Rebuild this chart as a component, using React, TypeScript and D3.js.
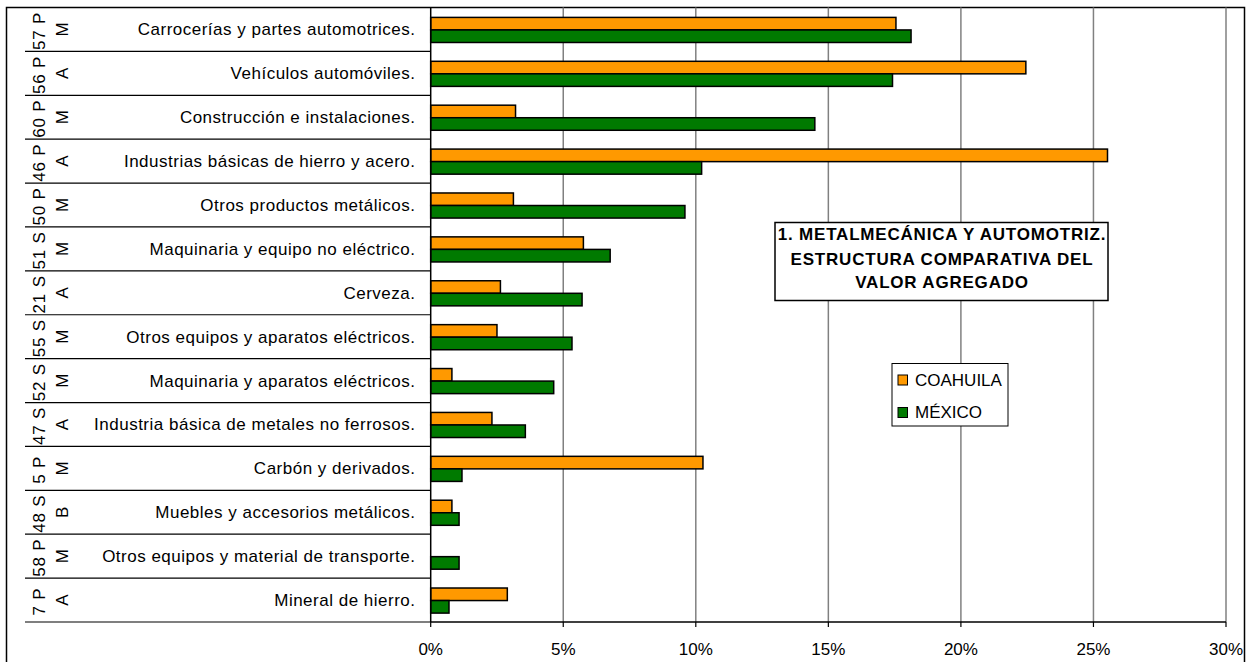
import React from "react";
import * as d3 from "d3";

const categories = [
  "Carrocerías y partes automotrices.",
  "Vehículos automóviles.",
  "Construcción e instalaciones.",
  "Industrias básicas de hierro y acero.",
  "Otros productos metálicos.",
  "Maquinaria y equipo no eléctrico.",
  "Cerveza.",
  "Otros equipos y aparatos eléctricos.",
  "Maquinaria y aparatos eléctricos.",
  "Industria básica de metales no ferrosos.",
  "Carbón y derivados.",
  "Muebles y accesorios metálicos.",
  "Otros equipos y material de transporte.",
  "Mineral de hierro.",
];
const codes = ["57 P", "56 P", "60 P", "46 P", "50 P", "51 S", "21 S", "55 S", "52 S", "47 S", "5 P", "48 S", "58 P", "7 P"];
const levels = ["M", "A", "M", "A", "M", "M", "A", "M", "M", "A", "M", "B", "M", "A"];
const coahuila = [17.55, 22.45, 3.2, 25.53, 3.12, 5.76, 2.63, 2.5, 0.8, 2.31, 10.27, 0.8, 0, 2.89];
const mexico = [18.12, 17.42, 14.49, 10.22, 9.59, 6.77, 5.71, 5.33, 4.64, 3.57, 1.18, 1.07, 1.07, 0.69];
const tickValues = [0, 5, 10, 15, 20, 25, 30];
const seriesNames = ["COAHUILA", "MÉXICO"];
const titleLines = ["1. METALMECÁNICA Y AUTOMOTRIZ.", "ESTRUCTURA COMPARATIVA DEL", "VALOR AGREGADO"];

const ORANGE = "#FF9900";
const GREEN = "#007A00";
const FONT = "'Liberation Sans', Arial, sans-serif";

export default function App() {
  const left = 430.7, right = 1226, top = 7.5, bottom = 622;
  const x = d3.scaleLinear().domain([0, 30]).range([left, right]);
  const y = d3.scaleBand<string>().domain(categories).range([top, bottom]).padding(0);
  const bw = y.bandwidth();
  const barH = bw / 3.5;
  const series = [coahuila, mexico];
  const colors = [ORANGE, GREEN];

  return (
    <svg
      width={1250}
      height={662}
      style={{ position: "absolute", left: 0, top: 0, background: "#fff" }}
      fontFamily={FONT}
    >
      <rect x={6.5} y={7.5} width={1238} height={700} fill="#fff" stroke="#000" strokeWidth={1.5} />
      {/* gridlines */}
      {tickValues.filter((t) => t > 0).map((t) => (
        <line key={"g" + t} x1={x(t)} x2={x(t)} y1={top} y2={bottom} stroke="#808080" strokeWidth={1.5} />
      ))}
      {/* category separators */}
      {categories.map((c, i) => (
        <line key={"s" + i} x1={25} x2={left} y1={(y(c) as number) + bw} y2={(y(c) as number) + bw} stroke="#000" strokeWidth={1.2} />
      ))}
      {/* bars */}
      {categories.map((c, i) =>
        series.map((s, k) =>
          s[i] > 0 ? (
            <rect
              key={c + k}
              x={x(0)}
              y={(y(c) as number) + (bw - 2 * barH) / 2 + k * barH + 0.5}
              width={x(s[i]) - x(0)}
              height={barH}
              fill={colors[k]}
              stroke="#000"
              strokeWidth={1.5}
            />
          ) : null
        )
      )}
      {/* axes */}
      <line x1={left} x2={left} y1={top} y2={bottom} stroke="#000" strokeWidth={1.5} />
      <line x1={left} x2={right} y1={bottom} y2={bottom} stroke="#000" strokeWidth={1.5} />
      {tickValues.map((t) => (
        <g key={"t" + t}>
          <line x1={x(t)} x2={x(t)} y1={bottom} y2={bottom + 5} stroke="#000" strokeWidth={1.2} />
          <text x={x(t)} y={655} textAnchor="middle" fontSize={17}>{t + "%"}</text>
        </g>
      ))}
      {/* category labels */}
      {categories.map((c, i) => {
        const cy = (y(c) as number) + bw / 2;
        return (
          <g key={"l" + i}>
            <text x={415.5} y={cy} dy="0.35em" textAnchor="end" fontSize={17} letterSpacing={0.5}>{c}</text>
            <text transform={`translate(68,${cy}) rotate(-90)`} textAnchor="middle" fontSize={17}>{levels[i]}</text>
            <text transform={`translate(45,${cy + 1.5}) rotate(-90)`} textAnchor="middle" fontSize={17} letterSpacing={0.8}>{codes[i]}</text>
          </g>
        );
      })}
      {/* title box */}
      <rect x={775} y={222.5} width={333} height={78} fill="#fff" stroke="#000" strokeWidth={1.5} />
      {titleLines.map((t, i) => (
        <text key={"tl" + i} x={942} y={[239.5, 264.5, 287.5][i]} textAnchor="middle" fontSize={17} fontWeight="bold" letterSpacing={0.8}>{t}</text>
      ))}
      {/* legend */}
      <rect x={892} y={363.5} width={116} height={62.5} fill="#fff" stroke="#000" strokeWidth={1} />
      {seriesNames.map((n, k) => (
        <g key={"lg" + k}>
          <rect x={898} y={375 + k * 32.5} width={9.5} height={10} fill={colors[k]} stroke="#000" strokeWidth={1} />
          <text x={915} y={385.5 + k * 32.5} fontSize={17}>{n}</text>
        </g>
      ))}
    </svg>
  );
}
